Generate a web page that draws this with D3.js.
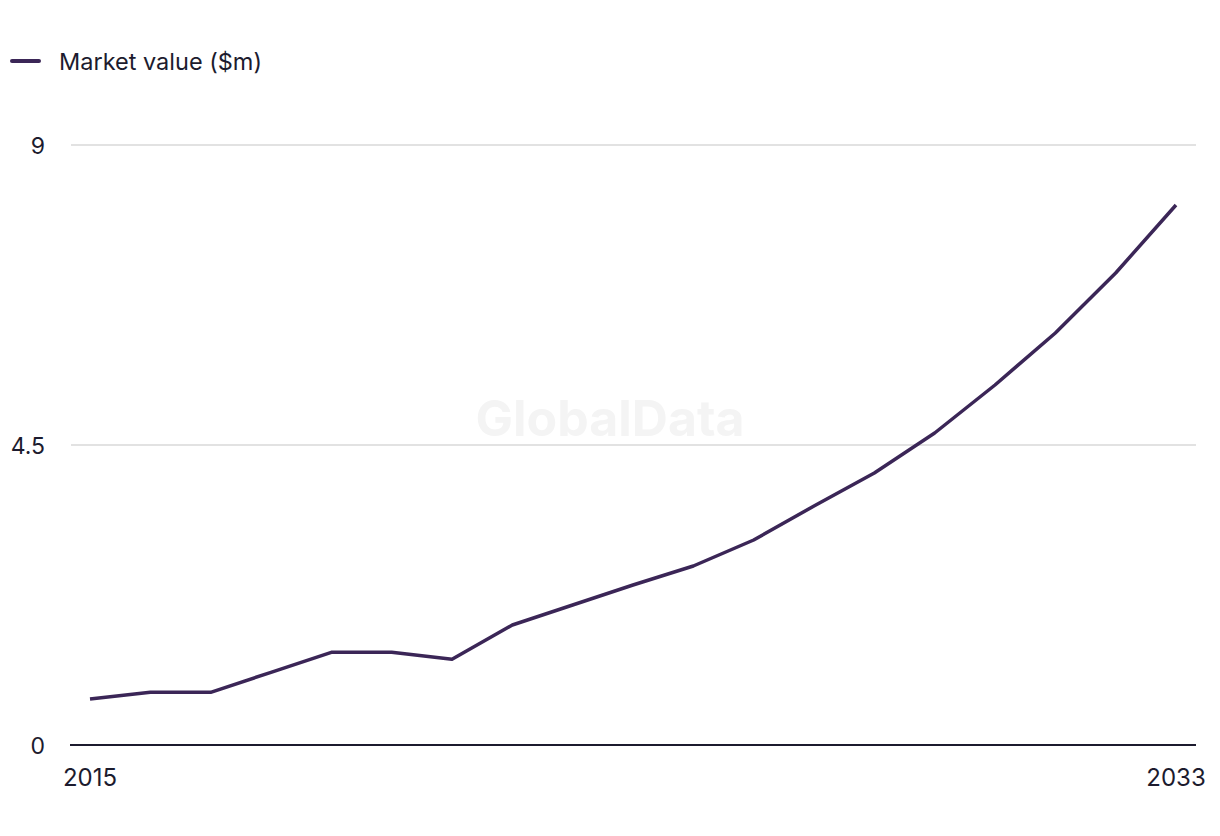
<!DOCTYPE html>
<html><head><meta charset="utf-8">
<script src="https://cdn.jsdelivr.net/npm/d3@7"></script>
<style>body{margin:0;background:#fff;}svg{display:block;font-family:Inter,"Liberation Sans",sans-serif;}</style>
</head><body><svg id="c" width="1220" height="836"></svg>
<script>
const years = [2015,2016,2017,2018,2019,2020,2021,2022,2023,2024,2025,2026,2027,2028,2029,2030,2031,2032,2033];
const marketValue = [0.69,0.79,0.79,1.09,1.39,1.39,1.285,1.8,2.1,2.4,2.685,3.075,3.585,4.08,4.68,5.4,6.18,7.08,8.1];
const yTicks = [0,4.5,9];
const xTickLabels = [2015,2033];
const seriesName = "Market value ($m)";

const svg = d3.select("#c");
const x = d3.scaleLinear().domain([2015,2033]).range([90,1176]);
const y = d3.scaleLinear().domain([0,9]).range([745,145]);
const lineColor = "#3b2657";

// watermark
svg.append("text").attr("x",610).attr("y",436).attr("text-anchor","middle")
  .attr("font-size",50).attr("font-weight",700).attr("fill","#f4f4f4").text("GlobalData");

// grid
svg.append("g").selectAll("line").data(yTicks.filter(d=>d>0)).join("line")
  .attr("x1",71).attr("x2",1196).attr("y1",d=>y(d)).attr("y2",d=>y(d))
  .attr("stroke","#d9d9d9").attr("stroke-width",1.5);
// baseline
svg.append("line").attr("x1",70).attr("x2",1196).attr("y1",y(0)).attr("y2",y(0))
  .attr("stroke","#1c1b2e").attr("stroke-width",2);

// y labels
svg.append("g").selectAll("text").data(yTicks).join("text")
  .attr("x",45).attr("y",d=>y(d)+9).attr("text-anchor","end")
  .attr("font-size",23).attr("fill","#1c1b2e").text(d=>d);
// x labels
svg.append("g").selectAll("text").data(xTickLabels).join("text")
  .attr("x",d=>x(d)).attr("y",786).attr("text-anchor","middle")
  .attr("font-size",24).attr("fill","#1c1b2e").text(d=>d);

// line
const line = d3.line().x((d,i)=>x(years[i])).y(d=>y(d));
svg.append("path").datum(marketValue).attr("d",line).attr("fill","none")
  .attr("stroke",lineColor).attr("stroke-width",3.5).attr("stroke-linejoin","round");

// legend
svg.append("line").attr("x1",12).attr("x2",39).attr("y1",61).attr("y2",61)
  .attr("stroke",lineColor).attr("stroke-width",4).attr("stroke-linecap","round");
svg.append("text").attr("x",59).attr("y",69.5).attr("font-size",23.5).attr("fill","#1c1b2e").text(seriesName);
</script></body></html>
